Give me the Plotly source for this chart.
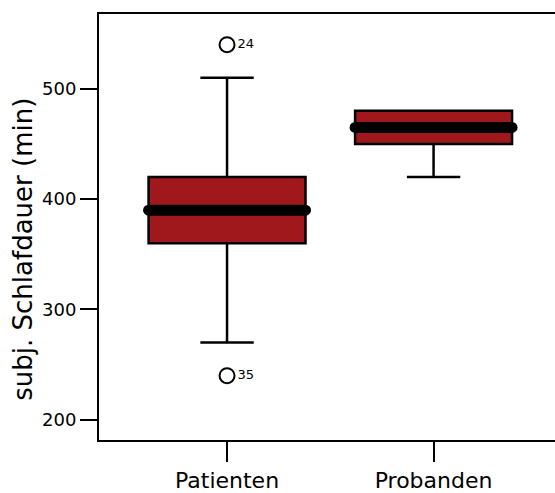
import plotly.graph_objects as go

# Group labels and five-number summaries (minutes)
groups = ["Patienten", "Probanden"]
q1 = [360, 450]
medians = [390, 465]
q3 = [420, 480]
lower_whisker = [270, 420]
upper_whisker = [510, 480]

# Outliers (group index, value, case id)
outlier_group = [0, 0]
outlier_values = [540, 240]
outlier_ids = ["24", "35"]

y_ticks = [200, 300, 400, 500]

FONT = "DejaVu Sans"
BOX_RED = "rgb(160,24,28)"
box_width = 0.76
positions = list(range(len(groups)))

fig = go.Figure()

fig.add_trace(go.Box(
    x=positions,
    q1=q1,
    median=medians,
    q3=q3,
    lowerfence=lower_whisker,
    upperfence=upper_whisker,
    width=box_width,
    whiskerwidth=0.34,
    fillcolor=BOX_RED,
    line=dict(color="black", width=2.5),
    boxpoints=False,
    hoverinfo="skip",
    showlegend=False,
))

# Heavy median bars with rounded ends
for i, m in zip(positions, medians):
    xs = [i - box_width / 2, i + box_width / 2]
    fig.add_trace(go.Scatter(
        x=xs, y=[m, m], mode="lines+markers",
        line=dict(color="black", width=11),
        marker=dict(color="black", size=11, line=dict(width=0)),
        hoverinfo="skip", showlegend=False,
    ))

# Outlier circles with case numbers
fig.add_trace(go.Scatter(
    x=outlier_group, y=outlier_values,
    mode="markers+text",
    marker=dict(symbol="circle-open", size=15, color="black", line=dict(width=2, color="black")),
    text=outlier_ids, textposition="middle right",
    textfont=dict(family=FONT, size=13, color="black"),
    hoverinfo="skip", showlegend=False,
))

fig.add_annotation(
    text="subj. Schlafdauer (min)", textangle=-90,
    xref="paper", yref="paper", x=-0.1667, y=0.449,
    xanchor="center", yanchor="middle", showarrow=False,
    font=dict(family=FONT, size=26, color="black"),
)

fig.update_layout(
    width=555, height=493,
    margin=dict(l=99, r=0, t=14, b=50),
    paper_bgcolor="white", plot_bgcolor="white",
    font=dict(family=FONT, color="black"),
    xaxis=dict(
        range=[-0.62, 1.588],
        tickmode="array", tickvals=positions, ticktext=groups,
        ticks="outside", ticklen=20, tickwidth=2, tickcolor="black",
        tickfont=dict(family=FONT, size=22, color="black"),
        showline=True, linewidth=2, linecolor="black", mirror=True,
        showgrid=False, zeroline=False,
    ),
    yaxis=dict(
        range=[181.7, 567.8],
        tickmode="array", tickvals=y_ticks,
        ticks="outside", ticklen=17, tickwidth=2, tickcolor="black",
        tickfont=dict(family=FONT, size=18, color="black"),
        showline=True, linewidth=2, linecolor="black", mirror=False,
        showgrid=False, zeroline=False,
    ),
)

fig.write_html("out.html")
